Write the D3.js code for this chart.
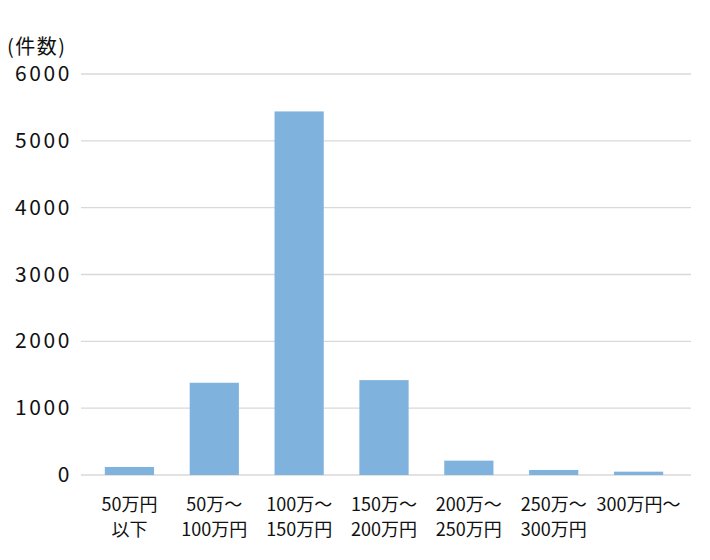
<!DOCTYPE html>
<html>
<head>
<meta charset="utf-8">
<script src="https://cdnjs.cloudflare.com/ajax/libs/d3/7.8.5/d3.min.js"></script>
<style>
  body { margin: 0; background: #fff; }
  text { font-family: "Noto Sans CJK JP", "Noto Sans", sans-serif; fill: #111; }
</style>
</head>
<body>
<svg id="chart" width="710" height="560"></svg>
<script>
// chart data
var categories = [
    ["50万円", "以下"],
    ["50万～", "100万円"],
    ["100万～", "150万円"],
    ["150万～", "200万円"],
    ["200万～", "250万円"],
    ["250万～", "300万円"],
    ["300万円～"]
];
var counts = [120, 1380, 5440, 1420, 215, 75, 50];
var yTicks = [0, 1000, 2000, 3000, 4000, 5000, 6000];
var unitLabel = "(件数)";

var svg = d3.select("#chart");

var gridLeft = 81, gridRight = 691;

var x = d3.scaleBand()
    .domain(d3.range(categories.length))
    .range([87, 681])
    .paddingInner(0.42)
    .paddingOuter(0.21);

var y = d3.scaleLinear()
    .domain([0, 6000])
    .range([475, 74]);

// gridlines
svg.selectAll("line.grid")
    .data(yTicks)
    .enter().append("line")
    .attr("class", "grid")
    .attr("x1", gridLeft)
    .attr("x2", gridRight)
    .attr("y1", function (d) { return y(d); })
    .attr("y2", function (d) { return y(d); })
    .attr("stroke", "#d9d9d9")
    .attr("stroke-width", 1.3);

// y tick labels (letter-spacing leaves a trailing gap, so anchor a bit further right)
svg.selectAll("text.ytick")
    .data(yTicks)
    .enter().append("text")
    .attr("class", "ytick")
    .attr("x", 72)
    .attr("y", function (d) { return y(d) + 7; })
    .attr("text-anchor", "end")
    .style("font-size", "21px")
    .style("letter-spacing", "2.6px")
    .text(function (d) { return d; });

// unit label
svg.append("text")
    .attr("x", 7)
    .attr("y", 54)
    .style("font-size", "20px")
    .style("letter-spacing", "1.5px")
    .text(unitLabel);

// bars
svg.selectAll("rect.bar")
    .data(counts)
    .enter().append("rect")
    .attr("class", "bar")
    .attr("x", function (d, i) { return x(i); })
    .attr("width", x.bandwidth())
    .attr("y", function (d) { return y(d); })
    .attr("height", function (d) { return y(0) - y(d); })
    .attr("fill", "#7fb3dd");

// x labels
var xl = svg.selectAll("text.xlab")
    .data(categories)
    .enter().append("text")
    .attr("class", "xlab")
    .attr("text-anchor", "middle")
    .style("font-size", "18px")
    .attr("transform", function (d, i) {
        return "translate(" + (x(i) + x.bandwidth() / 2) + ",0)";
    });
xl.selectAll("tspan")
    .data(function (d) { return d; })
    .enter().append("tspan")
    .attr("x", 0)
    .attr("y", function (d, j) { return 511 + j * 25; })
    .text(function (d) { return d; });
</script>
</body>
</html>
